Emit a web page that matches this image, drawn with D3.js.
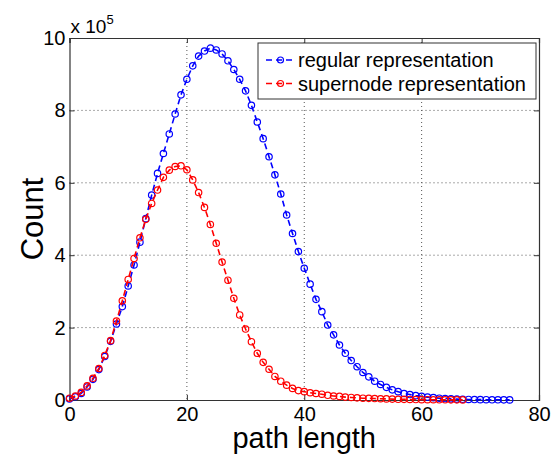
<!doctype html>
<html>
  <head>
    <meta charset="utf-8">
    <script src="https://d3js.org/d3.v7.min.js"></script>
    <style>
      body { margin: 0; background: #fff; }
      text { font-family: "Liberation Sans", Arial, sans-serif; fill: #000; }
      .grid line { stroke: #555; stroke-dasharray: 1,3; }
    </style>
  </head>
  <body>
    <script>
    // path length values (x) and counts in units of 10^5
    var regularX = d3.range(0, 76);
    var regularY = [0.03, 0.09, 0.18, 0.36, 0.57, 0.84, 1.20, 1.62, 2.10, 2.58,
                    3.15, 3.73, 4.36, 5.01, 5.66, 6.26, 6.81, 7.35, 7.90, 8.43,
                    8.86, 9.23, 9.50, 9.64, 9.72, 9.67, 9.56, 9.37, 9.13, 8.86,
                    8.54, 8.14, 7.68, 7.22, 6.72, 6.22, 5.69, 5.11, 4.60, 4.10,
                    3.64, 3.20, 2.78, 2.44, 2.07, 1.80, 1.52, 1.29, 1.09, 0.92,
                    0.76, 0.64, 0.52, 0.43, 0.35, 0.28, 0.23, 0.18, 0.15, 0.12,
                    0.10, 0.08, 0.065, 0.05, 0.04, 0.032, 0.025, 0.02, 0.015, 0.012,
                    0.01, 0.008, 0.006, 0.005, 0.004, 0.003];
    var supernodeX = d3.range(0, 68);
    var supernodeY = [0.05, 0.11, 0.21, 0.39, 0.60, 0.87, 1.23, 1.64, 2.18, 2.74,
                      3.33, 3.91, 4.48, 4.99, 5.43, 5.80, 6.15, 6.35, 6.45, 6.47,
                      6.36, 6.08, 5.73, 5.32, 4.85, 4.33, 3.81, 3.31, 2.81, 2.35,
                      1.96, 1.61, 1.29, 1.04, 0.85, 0.65, 0.52, 0.41, 0.32, 0.26,
                      0.23, 0.20, 0.18, 0.16, 0.13, 0.11, 0.10, 0.08, 0.07, 0.06,
                      0.05, 0.045, 0.04, 0.035, 0.03, 0.025, 0.02, 0.018, 0.015, 0.012,
                      0.01, 0.008, 0.007, 0.006, 0.005, 0.004, 0.004, 0.003];
    var xTicks = [0, 20, 40, 60, 80];
    var yTicks = [0, 2, 4, 6, 8, 10];
    var seriesNames = ['regular representation', 'supernode representation'];
    var colors = ['#0000ff', '#ff0000'];

    var width = 555, height = 461;
    var margin = {top: 38, right: 16, bottom: 61, left: 69.5};
    var innerWidth = width - margin.left - margin.right;
    var innerHeight = height - margin.top - margin.bottom;

    var svg = d3.select('body').append('svg')
      .attr('width', width)
      .attr('height', height);

    var g = svg.append('g')
      .attr('transform', 'translate(' + margin.left + ',' + margin.top + ')');

    var x = d3.scaleLinear().domain([0, 80]).range([0, innerWidth]);
    var y = d3.scaleLinear().domain([0, 10]).range([innerHeight, 0]);

    // grid
    g.append('g').attr('class', 'grid')
      .selectAll('line').data(xTicks.slice(1, -1)).enter().append('line')
      .attr('x1', function(d) { return x(d); })
      .attr('x2', function(d) { return x(d); })
      .attr('y1', 0).attr('y2', innerHeight);
    g.append('g').attr('class', 'grid')
      .selectAll('line').data(yTicks.slice(1, -1)).enter().append('line')
      .attr('y1', function(d) { return y(d); })
      .attr('y2', function(d) { return y(d); })
      .attr('x1', 0).attr('x2', innerWidth);

    // axes (ticks inside, like matlab)
    var xAxis = d3.axisBottom(x).tickValues(xTicks).tickSize(-5).tickPadding(7);
    var yAxis = d3.axisLeft(y).tickValues(yTicks).tickSize(-5).tickPadding(4);
    var xTop = d3.axisTop(x).tickValues(xTicks).tickSize(-5);
    var yRight = d3.axisRight(y).tickValues(yTicks).tickSize(-5);

    g.append('g').attr('transform', 'translate(0,' + innerHeight + ')').call(xAxis);
    g.append('g').call(yAxis);
    g.append('g').call(xTop).selectAll('text').remove();
    g.append('g').attr('transform', 'translate(' + innerWidth + ',0)').call(yRight)
      .selectAll('text').remove();

    g.selectAll('.domain').attr('stroke', '#333').attr('stroke-width', 1.2);
    g.selectAll('.tick line').attr('stroke', '#333');
    g.selectAll('.tick text')
      .attr('font-family', '"Liberation Sans", Arial, sans-serif')
      .style('font-size', '20px')
      .attr('fill', '#000');

    // exponent label
    var expo = g.append('text')
      .attr('x', 1)
      .attr('y', -5)
      .style('font-size', '19px');
    expo.append('tspan').text('x 10');
    expo.append('tspan').attr('dy', -9).style('font-size', '13px').text('5');

    // lines
    var seriesX = [regularX, supernodeX];
    var seriesY = [regularY, supernodeY];

    var line = d3.line()
      .x(function(d) { return x(d[0]); })
      .y(function(d) { return y(d[1]); });

    seriesNames.forEach(function(name, i) {
      var pts = seriesX[i].map(function(v, j) { return [v, seriesY[i][j]]; });
      g.append('path')
        .datum(pts)
        .attr('fill', 'none')
        .attr('stroke', colors[i])
        .attr('stroke-width', 1.6)
        .attr('stroke-dasharray', '6,4')
        .attr('d', line);
      g.append('g').selectAll('circle').data(pts).enter().append('circle')
        .attr('cx', function(d) { return x(d[0]); })
        .attr('cy', function(d) { return y(d[1]); })
        .attr('r', 3.2)
        .attr('fill', 'none')
        .attr('stroke', colors[i])
        .attr('stroke-width', 1.2);
    });

    // axis labels
    svg.append('text')
      .attr('x', margin.left + innerWidth / 2)
      .attr('y', 448)
      .attr('text-anchor', 'middle')
      .style('font-size', '29px')
      .text('path length');

    svg.append('text')
      .attr('transform', 'translate(43,219) rotate(-90)')
      .attr('text-anchor', 'middle')
      .style('font-size', '31px')
      .text('Count');

    // legend
    var lg = svg.append('g').attr('transform', 'translate(258,43)');
    lg.append('rect')
      .attr('width', 278).attr('height', 56)
      .attr('fill', '#fff')
      .attr('stroke', '#333')
      .attr('stroke-width', 1);
    seriesNames.forEach(function(name, i) {
      var yy = 17 + i * 23.5;
      lg.append('line')
        .attr('x1', 8).attr('x2', 37)
        .attr('y1', yy).attr('y2', yy)
        .attr('stroke', colors[i])
        .attr('stroke-width', 1.5)
        .attr('stroke-dasharray', '6,4');
      lg.append('circle')
        .attr('cx', 22.5).attr('cy', yy).attr('r', 3)
        .attr('fill', 'none')
        .attr('stroke', colors[i])
        .attr('stroke-width', 1.2);
      lg.append('text')
        .attr('x', 40).attr('y', yy + 7)
        .style('font-size', '20px')
        .text(name);
    });
    </script>
  </body>
</html>
